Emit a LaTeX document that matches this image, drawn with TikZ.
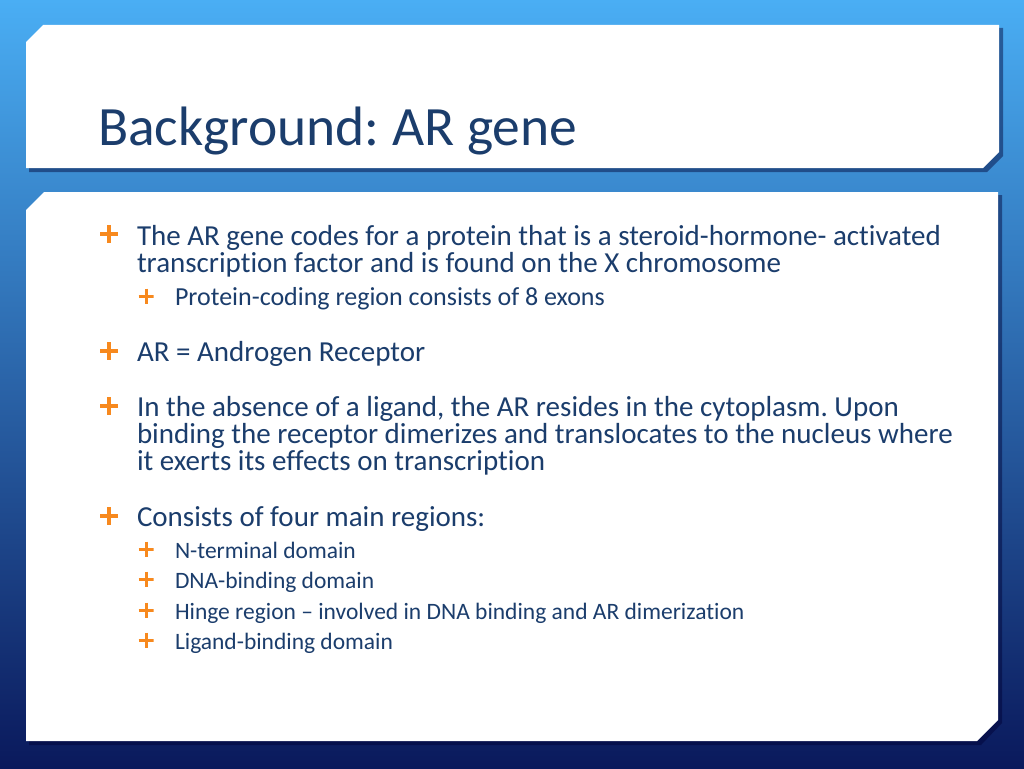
\documentclass[tikz,border=0pt]{standalone}
\usepackage{fontspec}
\setmainfont{Carlito}[Ligatures=NoCommon]
\frenchspacing
\definecolor{skyTop}{HTML}{4AAEF4}
\definecolor{skyMid}{HTML}{2777CC}
\definecolor{skyBot}{HTML}{0A195C}
\definecolor{inkBlue}{HTML}{1B3D6C}
\definecolor{plusOrange}{HTML}{F7891E}
\tikzset{
  panel/.style={fill=white},
  panelshadow/.style={fill=black!80!blue, opacity=0.45},
  titletext/.style={text=inkBlue, font=\fontsize{55.5}{55.5}\selectfont},
  bodytext/.style={text=inkBlue, font=\fontsize{29}{29}\selectfont},
  subtext/.style={text=inkBlue, font=\fontsize{26}{26}\selectfont},
  regiontext/.style={text=inkBlue, font=\fontsize{23.5}{23.5}\selectfont},
  plusmark/.style={anchor=center, minimum width=#1, minimum height=#1,
    path picture={\draw[plusOrange, line width=0.2*#1]
      (path picture bounding box.north) -- (path picture bounding box.south)
      (path picture bounding box.west) -- (path picture bounding box.east);}},
  mainplus/.style={plusmark=18pt},
  subplus/.style={plusmark=15pt},
}
\begin{document}
\begin{tikzpicture}[x=1pt, y=-1pt, every node/.style={anchor=base west, inner sep=0pt, outer sep=0pt}]
	\useasboundingbox (0, 0) rectangle (1024, 768);
	
	% background
	\shade[top color=skyTop, middle color=skyMid, bottom color=skyBot] (0, 0) rectangle (1024, 768);
	
	% title panel
	\fill[panelshadow] (29, 45) -- (46, 28) -- (1003, 28) -- (1003, 156) -- (987, 172) -- (29, 172) -- cycle;
	\fill[panel] (26, 42) -- (43, 25) -- (999, 25) -- (999, 152) -- (983, 168) -- (26, 168) -- cycle;
	
	% content panel
	\fill[panelshadow] (29, 213) -- (47, 195) -- (1002, 195) -- (1002, 723) -- (981, 745) -- (29, 745) -- cycle;
	\fill[panel] (26, 210) -- (44, 192) -- (998, 192) -- (998, 720) -- (977, 741) -- (26, 741) -- cycle;
	
	% title
	\node[titletext] (title) at (98, 145) {Background: AR gene};
	
	% bullet 1
	\node[mainplus] (p1) at (109, 234) {};
	\node[bodytext] (t1a) at (137, 245) {The AR gene codes for a protein that is a steroid-hormone- activated};
	\node[bodytext] (t1b) at (137, 272) {transcription factor and is found on the X chromosome};
	\node[subplus] (s1) at (146, 296) {};
	\node[subtext] (u1) at (175, 305) {Protein-coding region consists of 8 exons};
	
	% bullet 2
	\node[mainplus] (p2) at (109, 351) {};
	\node[bodytext] (t2) at (137, 361) {AR = Androgen Receptor};
	
	% bullet 3
	\node[mainplus] (p3) at (109, 406) {};
	\node[bodytext] (t3a) at (137, 416) {In the absence of a ligand, the AR resides in the cytoplasm. Upon};
	\node[bodytext] (t3b) at (137, 443) {binding the receptor dimerizes and translocates to the nucleus where};
	\node[bodytext] (t3c) at (137, 470) {it exerts its effects on transcription};
	
	% bullet 4
	\node[mainplus] (p4) at (109, 516) {};
	\node[bodytext] (t4) at (137, 526) {Consists of four main regions:};
	\node[subplus] (s4a) at (146, 549) {};
	\node[regiontext] (u4a) at (175, 558) {N-terminal domain};
	\node[subplus] (s4b) at (146, 579) {};
	\node[regiontext] (u4b) at (175, 588) {DNA-binding domain};
	\node[subplus] (s4c) at (146, 610) {};
	\node[regiontext] (u4c) at (175, 619) {Hinge region -- involved in DNA binding and AR dimerization};
	\node[subplus] (s4d) at (146, 640) {};
	\node[regiontext] (u4d) at (175, 649) {Ligand-binding domain};
\end{tikzpicture}
\end{document}
